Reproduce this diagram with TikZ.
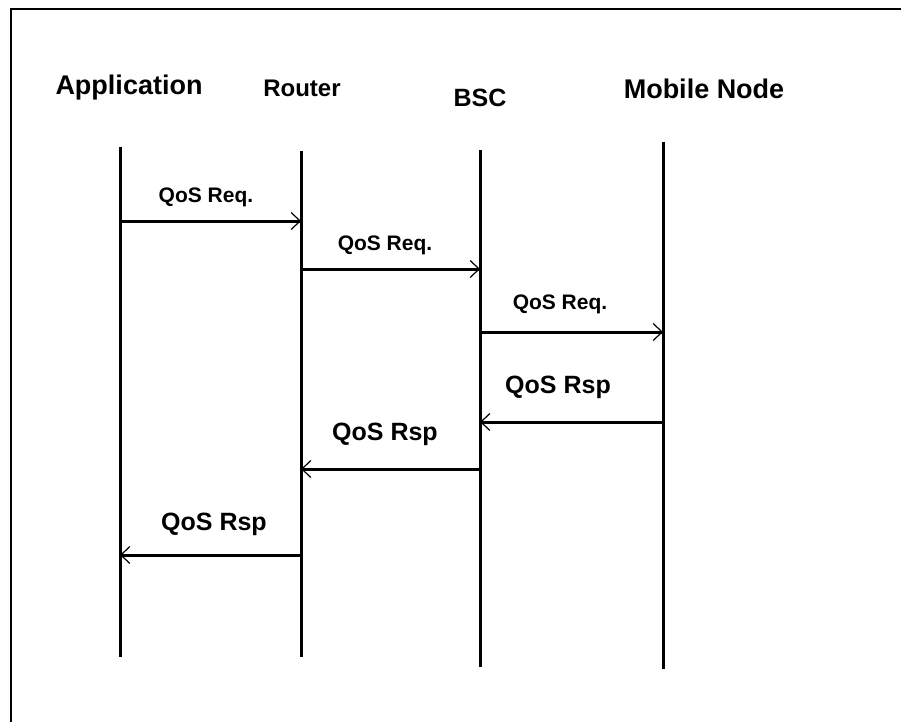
\documentclass[tikz,border=0pt]{standalone}
\usepackage{fontspec}
\setmainfont{Liberation Sans}
\usepackage{tikz}
\usetikzlibrary{arrows.meta, positioning, calc}

\begin{document}
\begin{tikzpicture}[x=1pt, y=-1pt,
    lifeline/.style={line width=3pt},
    msg/.style={line width=3pt, -{Straight Barb[length=9pt, width=17pt, line width=1.2pt]}},
    actor/.style={anchor=base, font=\fontsize{#1}{#1}\selectfont\bfseries},
    reqlbl/.style={anchor=base, font=\fontsize{21}{24}\selectfont\bfseries},
    rsplbl/.style={anchor=base, font=\fontsize{25}{28}\selectfont\bfseries}]
  \useasboundingbox (0,0) rectangle (901,722);

  % Frame (top and left edge only)
  \draw[line width=1.8pt] (11,722) -- (11,9) -- (901,9);

  % Participants
  \node[actor=27] (app) at (129,95)  {Application};
  \node[actor=24] (rtr) at (302,97)  {Router};
  \node[actor=25] (bsc) at (480,107) {BSC};
  \node[actor=27] (mob) at (704,99)  {Mobile Node};

  % Lifelines
  \foreach \nm/\xx/\top/\bot in {app/120/147/657, rtr/301/151/657,
                                 bsc/480/150/667, mob/663/142/669}{
    \coordinate (\nm-t) at (\xx,\top);
    \coordinate (\nm-b) at (\xx,\bot);
    \draw[lifeline] (\nm-t) -- (\nm-b);
  }

  % Messages: from/to/height
  \foreach \from/\to/\yy in {app/rtr/221, rtr/bsc/269, bsc/mob/332,
                             mob/bsc/422, bsc/rtr/469, rtr/app/555}
    \draw[msg] (\from-t |- 0,\yy) -- (\to-t |- 0,\yy);

  % Message labels
  \node[reqlbl] (req1) at (206,202) {QoS Req.};
  \node[reqlbl] (req2) at (385,250) {QoS Req.};
  \node[reqlbl] (req3) at (560,309) {QoS Req.};
  \node[rsplbl] (rsp1) at (558,393) {QoS Rsp};
  \node[rsplbl] (rsp2) at (385,440) {QoS Rsp};
  \node[rsplbl] (rsp3) at (214,530) {QoS Rsp};
\end{tikzpicture}
\end{document}
